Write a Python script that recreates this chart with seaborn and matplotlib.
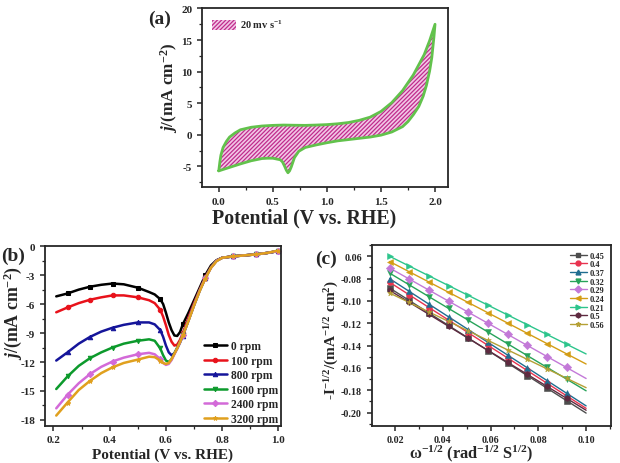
import numpy as np
import matplotlib
matplotlib.use("Agg")
import matplotlib.pyplot as plt
import seaborn as sns
from matplotlib.lines import Line2D
from matplotlib.patches import Patch
from matplotlib.ticker import MultipleLocator, FixedLocator, FixedFormatter

# ---------------- (a) CV loop, 20 mV/s ----------------
cv_v_fwd = [0.00, 0.01, 0.02, 0.04, 0.07, 0.10, 0.15, 0.20, 0.30, 0.40, 0.50, 0.60, 0.70, 0.80,
            0.90, 1.00, 1.10, 1.20, 1.30, 1.40, 1.50, 1.60, 1.70, 1.80, 1.90, 1.95, 2.00]
cv_j_fwd = [-5.70, -4.30, -3.20, -2.00, -1.05, -0.35, 0.30, 0.80, 1.20, 1.40, 1.50, 1.55, 1.52, 1.50,
            1.55, 1.62, 1.75, 1.95, 2.30, 2.80, 3.70, 5.10, 7.00, 9.50, 12.70, 14.90, 17.50]
cv_v_rev = [2.00, 1.99, 1.97, 1.95, 1.92, 1.89, 1.85, 1.80, 1.75, 1.70, 1.60, 1.50, 1.40, 1.30,
            1.20, 1.10, 1.00, 0.90, 0.80, 0.74, 0.70, 0.67, 0.655, 0.64, 0.625, 0.61, 0.59, 0.57,
            0.50, 0.45, 0.40, 0.30, 0.20, 0.10, 0.00]
cv_j_rev = [17.50, 15.50, 12.20, 10.10, 7.80, 6.10, 4.50, 3.20, 2.10, 1.30, 0.45, -0.05, -0.35, -0.55,
            -0.75, -0.95, -1.25, -1.60, -2.00, -2.60, -3.60, -5.10, -5.70, -6.00, -5.60, -5.00, -4.30, -3.95,
            -3.70, -3.70, -3.75, -4.10, -4.60, -5.15, -5.70]

# ---------------- (b) LSV at different rotation rates ----------------
lsv_v = [0.21, 0.25, 0.29, 0.33, 0.37, 0.41, 0.45, 0.50, 0.54, 0.56, 0.58, 0.59, 0.60, 0.61, 0.62, 0.63,
         0.64, 0.65, 0.66, 0.68, 0.70, 0.72, 0.74, 0.76, 0.78, 0.80, 0.84, 0.88, 0.92, 0.96, 1.00]
lsv_0 = [-5.2, -4.9, -4.5, -4.2, -4.0, -3.87, -3.95, -4.3, -4.75, -5.0, -5.5, -6.0, -6.9, -7.9, -8.7, -9.25,
         -9.3, -8.9, -8.1, -6.9, -5.6, -4.3, -3.0, -2.0, -1.45, -1.2, -1.05, -0.95, -0.85, -0.7, -0.5]
lsv_100 = [-6.85, -6.35, -5.9, -5.55, -5.3, -5.1, -5.1, -5.3, -5.6, -5.9, -6.6, -7.3, -8.2, -9.2, -9.9, -10.3,
           -10.2, -9.7, -9.0, -7.4, -5.9, -4.5, -3.2, -2.15, -1.5, -1.2, -1.05, -0.95, -0.85, -0.7, -0.5]
lsv_800 = [-11.85, -11.0, -10.1, -9.4, -8.85, -8.45, -8.15, -7.9, -7.9, -8.1, -8.7, -9.4, -10.3, -11.0, -11.3, -11.1,
           -10.6, -10.0, -9.3, -7.7, -6.1, -4.6, -3.3, -2.2, -1.5, -1.2, -1.05, -0.95, -0.85, -0.7, -0.5]
lsv_1600 = [-14.8, -13.5, -12.4, -11.6, -11.0, -10.5, -10.1, -9.8, -9.65, -9.8, -10.6, -11.3, -11.85, -12.0, -11.7, -11.1,
            -10.5, -9.9, -9.2, -7.7, -6.1, -4.6, -3.3, -2.2, -1.5, -1.2, -1.05, -0.95, -0.85, -0.7, -0.5]
lsv_2400 = [-16.8, -15.4, -14.2, -13.25, -12.5, -11.95, -11.55, -11.2, -11.05, -11.2, -11.7, -12.1, -12.3, -12.2, -11.8, -11.2,
            -10.6, -9.95, -9.25, -7.7, -6.1, -4.6, -3.3, -2.25, -1.5, -1.2, -1.05, -0.95, -0.85, -0.7, -0.5]
lsv_3200 = [-17.55, -16.2, -14.9, -13.95, -13.15, -12.55, -12.1, -11.75, -11.45, -11.5, -11.85, -12.1, -12.2, -12.1, -11.7, -11.15,
            -10.6, -9.95, -9.25, -7.75, -6.15, -4.65, -3.35, -2.25, -1.55, -1.2, -1.05, -0.95, -0.85, -0.7, -0.45]
rpm_labels = ["0 rpm", "100 rpm", "800 rpm", "1600 rpm", "2400 rpm", "3200 rpm"]

# ---------------- (c) Koutecky-Levich plots ----------------
kl_x = [0.0177, 0.0259, 0.0342, 0.0424, 0.0506, 0.0589, 0.0671, 0.0753, 0.0836, 0.0918]
kl_x_end = 0.10
kl_labels = ["0.45", "0.4", "0.37", "0.32", "0.29", "0.24", "0.21", "0.5", "0.56"]
kl_045 = [-0.0884, -0.0996, -0.1109, -0.1220, -0.1332, -0.1445, -0.1557, -0.1669, -0.1781, -0.1893]
kl_040 = [-0.0833, -0.0945, -0.1059, -0.1172, -0.1284, -0.1398, -0.1511, -0.1623, -0.1737, -0.1850]
kl_037 = [-0.0801, -0.0914, -0.1029, -0.1143, -0.1256, -0.1371, -0.1485, -0.1598, -0.1713, -0.1827]
kl_032 = [-0.0751, -0.0856, -0.0962, -0.1067, -0.1172, -0.1279, -0.1384, -0.1489, -0.1595, -0.1700]
kl_029 = [-0.0705, -0.0804, -0.0903, -0.1002, -0.1101, -0.1201, -0.1299, -0.1398, -0.1498, -0.1596]
kl_024 = [-0.0647, -0.0738, -0.0831, -0.0923, -0.1014, -0.1107, -0.1198, -0.1289, -0.1382, -0.1474]
kl_021 = [-0.0600, -0.0688, -0.0774, -0.0864, -0.0951, -0.1036, -0.1126, -0.1213, -0.1299, -0.1389]
kl_050 = [-0.0905, -0.1012, -0.1120, -0.1228, -0.1335, -0.1443, -0.1550, -0.1657, -0.1765, -0.1872]
kl_056 = [-0.0929, -0.1014, -0.1099, -0.1184, -0.1268, -0.1354, -0.1438, -0.1523, -0.1608, -0.1693]
kl_yticks = [-0.20, -0.18, -0.16, -0.14, -0.12, -0.10, -0.08, -0.06]
kl_yticklabels = ["-0.20", "-0.18", "-0.16", "-0.14", "-0.12", "-0.10", "-0.08", "0.06"]

# ---------------- style ----------------
sns.set_theme(style="ticks")
plt.rcParams["font.family"] = ["Liberation Serif", "DejaVu Serif"]
plt.rcParams.update({
    "font.weight": "bold",
    "axes.labelweight": "bold",
    "axes.unicode_minus": False,
    "mathtext.fontset": "custom",
    "mathtext.rm": "Liberation Serif:bold",
    "mathtext.it": "Liberation Serif:italic:bold",
    "mathtext.bf": "Liberation Serif:bold",
    "axes.linewidth": 1.3,
    "xtick.direction": "out",
    "ytick.direction": "out",
    "xtick.major.width": 1.1,
    "ytick.major.width": 1.1,
    "xtick.minor.width": 0.9,
    "ytick.minor.width": 0.9,
    "xtick.major.size": 3.5,
    "ytick.major.size": 3.5,
    "xtick.minor.size": 2,
    "ytick.minor.size": 2,
    "hatch.linewidth": 0.9,
})

fig = plt.figure(figsize=(6.2, 4.64), dpi=100)
W, H = 620, 464


def add_ax(left, top, right, bottom):
    return fig.add_axes([left / W, 1 - bottom / H, (right - left) / W, (bottom - top) / H])


def place_labels(ax, xl, yl):
    # label centres given in axes fractions
    ax.xaxis.set_label_coords(*xl)
    ax.xaxis.label.set_verticalalignment("center")
    ax.yaxis.set_label_coords(*yl)
    ax.yaxis.label.set_verticalalignment("center")


# ---------------- panel (a) ----------------
ax_a = add_ax(202, 8.5, 448, 188.3)
loop_v = cv_v_fwd + cv_v_rev[1:]
loop_j = cv_j_fwd + cv_j_rev[1:]
ax_a.fill(loop_v, loop_j, facecolor="#f2c6e6", edgecolor="#c02c8c", hatch="////////", linewidth=0)
sns.lineplot(x=loop_v, y=loop_j, sort=False, color="#62c24c", linewidth=2.0, ax=ax_a, estimator=None)
ax_a.set_xlim(-0.155, 2.12)
ax_a.set_ylim(-8.3, 20.15)
ax_a.xaxis.set_major_locator(MultipleLocator(0.5))
ax_a.xaxis.set_minor_locator(MultipleLocator(0.25))
ax_a.yaxis.set_major_locator(MultipleLocator(5))
ax_a.yaxis.set_minor_locator(MultipleLocator(2.5))
ax_a.tick_params(labelsize=8)
ax_a.set_xlabel("Potential (V vs. RHE)", fontsize=14.3)
ax_a.set_ylabel(r"$j$/(mA cm$^{-2}$)", fontsize=12.3)
place_labels(ax_a, (0.415, -0.168), (-0.132, 0.561))
ax_a.legend(handles=[Patch(facecolor="#f2c6e6", edgecolor="#c02c8c", hatch="////////", linewidth=0)],
            labels=[r"20 mv s$^{-1}$"], loc="upper left", frameon=False, fontsize=7.5,
            handlelength=2.3, handleheight=1.1, borderaxespad=0.6, handletextpad=0.3)
for sp in ax_a.spines.values():
    sp.set_visible(True)
fig.text(160 / W, 1 - 19 / H, "(a)", fontsize=14, fontweight="bold", ha="center", va="center")

# ---------------- panel (b) ----------------
ax_b = add_ax(45, 246.7, 280.7, 426.7)
lsv_series = [lsv_0, lsv_100, lsv_800, lsv_1600, lsv_2400, lsv_3200]
lsv_colors = ["#000000", "#e8121b", "#15159a", "#0c9a2c", "#d36ad8", "#e0a01e"]
lsv_markers = ["s", "o", "^", "v", "D", "*"]
mark_idx = [1, 3, 5, 7, 10, 18, 22, 26, 28, 30]
for vals, col, mk, lab in zip(lsv_series, lsv_colors, lsv_markers, rpm_labels):
    sns.lineplot(x=lsv_v, y=vals, color=col, linewidth=1.8, marker=mk, markersize=3.2,
                 markeredgecolor=col, markevery=mark_idx, label=lab, ax=ax_b, estimator=None)
ax_b.set_xlim(0.17, 1.008)
ax_b.set_ylim(-18.6, 0.05)
ax_b.xaxis.set_major_locator(MultipleLocator(0.2))
ax_b.xaxis.set_minor_locator(MultipleLocator(0.1))
ax_b.yaxis.set_major_locator(MultipleLocator(3))
ax_b.yaxis.set_minor_locator(MultipleLocator(1.5))
ax_b.tick_params(labelsize=8)
ax_b.set_xlabel("Potential (V vs. RHE)", fontsize=11)
ax_b.set_ylabel(r"$j$/(mA cm$^{-2}$)", fontsize=12.8)
place_labels(ax_b, (0.5, -0.157), (-0.136, 0.632))
ax_b.legend(loc="lower right", frameon=False, fontsize=8.3, labelspacing=0.22, handlelength=2.0,
            handletextpad=0.35, borderaxespad=0.15, bbox_to_anchor=(1.015, -0.03))
for sp in ax_b.spines.values():
    sp.set_visible(True)
fig.text(13 / W, 1 - 256 / H, "(b)", fontsize=14, fontweight="bold", ha="center", va="center")

# ---------------- panel (c) ----------------
ax_c = add_ax(371.7, 246, 610.7, 426.5)
kl_series = [kl_045, kl_040, kl_037, kl_032, kl_029, kl_024, kl_021, kl_050, kl_056]
kl_colors = ["#4d4d4d", "#e8334f", "#1f6d90", "#27a35a", "#c379d8", "#d49d15", "#2dc58c", "#5e2a40", "#b5a035"]
kl_markers = ["s", "o", "^", "v", "D", "<", ">", "h", "*"]
handles = []
for vals, col, mk, lab in zip(kl_series, kl_colors, kl_markers, kl_labels):
    slope, icpt = np.polyfit(kl_x, vals, 1)
    fit_x = [kl_x[0], kl_x_end]
    fit_y = [slope * kl_x[0] + icpt, slope * kl_x_end + icpt]
    sns.lineplot(x=fit_x, y=fit_y, color=col, linewidth=1.0, ax=ax_c, estimator=None)
    sns.scatterplot(x=kl_x, y=vals, color=col, marker=mk, s=18, edgecolor=col, linewidth=0.4, ax=ax_c, zorder=3)
    handles.append(Line2D([], [], color=col, marker=mk, markersize=3.5, linewidth=1.0))
ax_c.set_xlim(0.0102, 0.1103)
ax_c.set_ylim(-0.2116, -0.0499)
ax_c.xaxis.set_major_locator(MultipleLocator(0.02))
ax_c.xaxis.set_minor_locator(MultipleLocator(0.01))
ax_c.yaxis.set_major_locator(FixedLocator(kl_yticks))
ax_c.yaxis.set_major_formatter(FixedFormatter(kl_yticklabels))
ax_c.yaxis.set_minor_locator(MultipleLocator(0.01))
ax_c.tick_params(labelsize=7.2)
ax_c.set_xlabel(r"ω$^{-1/2}$ (rad$^{-1/2}$ S$^{1/2}$)", fontsize=11.8)
ax_c.set_ylabel(r"-I$^{-1/2}$/(mA$^{-1/2}$ cm$^{2}$)", fontsize=11)
place_labels(ax_c, (0.415, -0.153), (-0.168, 0.479))
ax_c.legend(handles=handles, labels=kl_labels, loc="upper right", frameon=False, fontsize=6,
            labelspacing=0.08, handlelength=2.0, handletextpad=0.3, borderaxespad=0.4)
for sp in ax_c.spines.values():
    sp.set_visible(True)
fig.text(326 / W, 1 - 259 / H, "(c)", fontsize=14, fontweight="bold", ha="center", va="center")

fig.savefig("out.png", dpi=100)
